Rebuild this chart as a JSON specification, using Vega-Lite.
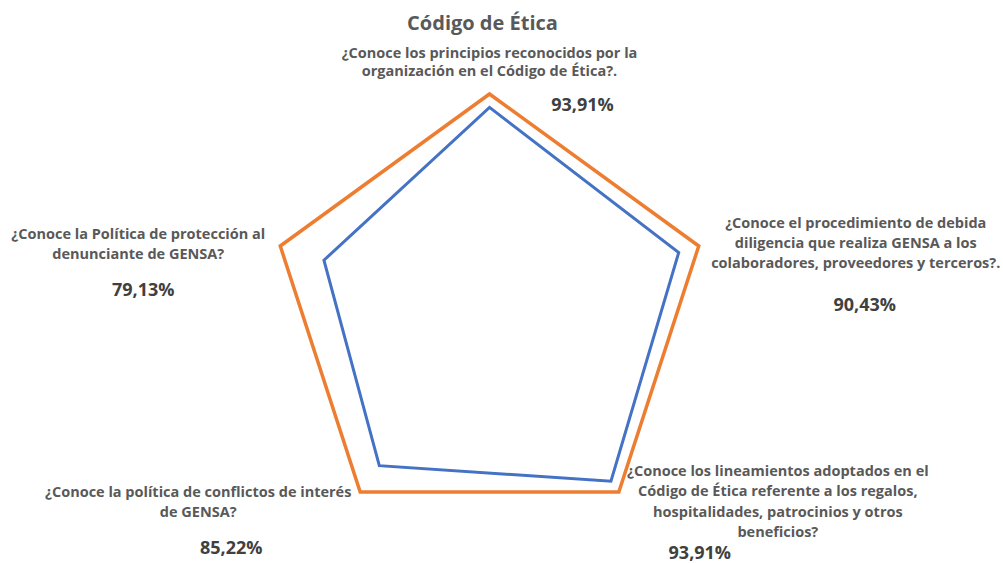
{
  "$schema": "https://vega.github.io/schema/vega-lite/v6.json",
  "width": 1003,
  "height": 523,
  "autosize": {"type": "none"},
  "padding": {"top": 40, "left": 0, "right": 0, "bottom": 0},
  "background": "white",
  "config": {
    "view": {"stroke": null},
    "locale": {"number": {"decimal": ",", "thousands": ".", "grouping": [3], "currency": ["", " €"]}}
  },
  "title": {
    "text": "Código de Ética",
    "font": "Open Sans",
    "fontSize": 20,
    "fontWeight": "bold",
    "color": "#595959",
    "anchor": "middle",
    "dx": -19,
    "offset": -10,
    "baseline": "alphabetic"
  },
  "data": {
    "values": [
      {"i": 0, "pregunta": "¿Conoce los principios reconocidos por la\norganización en el Código de Ética?.", "valor": 0.9391, "max": 1},
      {"i": 1, "pregunta": "¿Conoce el procedimiento de debida\ndiligencia que realiza GENSA a los\ncolaboradores, proveedores y terceros?.", "valor": 0.9043, "max": 1},
      {"i": 2, "pregunta": "¿Conoce los lineamientos adoptados en el\nCódigo de Ética referente a los regalos,\nhospitalidades, patrocinios y otros\nbeneficios?", "valor": 0.9391, "max": 1},
      {"i": 3, "pregunta": "¿Conoce la política de conflictos de interés\nde GENSA?", "valor": 0.8522, "max": 1},
      {"i": 4, "pregunta": "¿Conoce la Política de protección al\ndenunciante de GENSA?", "valor": 0.7913, "max": 1}
    ]
  },
  "transform": [
    {"calculate": "datum.i * 2 * PI / 5", "as": "ang"},
    {"calculate": "datum.valor * sin(datum.ang)", "as": "x"},
    {"calculate": "datum.valor * cos(datum.ang)", "as": "y"},
    {"calculate": "datum.max * sin(datum.ang)", "as": "xm"},
    {"calculate": "datum.max * cos(datum.ang)", "as": "ym"}
  ],
  "layer": [
    {
      "mark": {"type": "line", "interpolate": "linear-closed", "color": "#ED7D31", "strokeWidth": 3.5, "strokeJoin": "miter"},
      "encoding": {
        "x": {"field": "xm", "type": "quantitative", "scale": {"domain": [-2.225, 2.334], "nice": false, "zero": false}, "axis": null},
        "y": {"field": "ym", "type": "quantitative", "scale": {"domain": [-1.1318, 1.2455], "nice": false, "zero": false}, "axis": null},
        "order": {"field": "i"}
      }
    },
    {
      "mark": {"type": "line", "interpolate": "linear-closed", "color": "#4472C4", "strokeWidth": 3, "strokeJoin": "miter"},
      "encoding": {
        "x": {"field": "x", "type": "quantitative", "axis": null},
        "y": {"field": "y", "type": "quantitative", "axis": null},
        "order": {"field": "i"}
      }
    },
    {
      "transform": [{"filter": "datum.i == 0"}],
      "mark": {"type": "text", "font": "Open Sans", "fontSize": 14.5, "fontWeight": "bold", "color": "#595959", "align": "center", "baseline": "middle", "lineBreak": "\n", "lineHeight": 18, "dx": 0, "dy": -40},
      "encoding": {"x": {"field": "xm", "type": "quantitative"}, "y": {"field": "ym", "type": "quantitative"}, "text": {"field": "pregunta"}}
    },
    {
      "transform": [{"filter": "datum.i == 1"}],
      "mark": {"type": "text", "font": "Open Sans", "fontSize": 14.5, "fontWeight": "bold", "color": "#595959", "align": "center", "baseline": "middle", "lineBreak": "\n", "lineHeight": 20, "dx": 157, "dy": -22},
      "encoding": {"x": {"field": "xm", "type": "quantitative"}, "y": {"field": "ym", "type": "quantitative"}, "text": {"field": "pregunta"}}
    },
    {
      "transform": [{"filter": "datum.i == 2"}],
      "mark": {"type": "text", "font": "Open Sans", "fontSize": 14.5, "fontWeight": "bold", "color": "#595959", "align": "center", "baseline": "middle", "lineBreak": "\n", "lineHeight": 20.5, "dx": 159, "dy": -20},
      "encoding": {"x": {"field": "xm", "type": "quantitative"}, "y": {"field": "ym", "type": "quantitative"}, "text": {"field": "pregunta"}}
    },
    {
      "transform": [{"filter": "datum.i == 3"}],
      "mark": {"type": "text", "font": "Open Sans", "fontSize": 14.5, "fontWeight": "bold", "color": "#595959", "align": "center", "baseline": "middle", "lineBreak": "\n", "lineHeight": 20, "dx": -162, "dy": 1},
      "encoding": {"x": {"field": "xm", "type": "quantitative"}, "y": {"field": "ym", "type": "quantitative"}, "text": {"field": "pregunta"}}
    },
    {
      "transform": [{"filter": "datum.i == 4"}],
      "mark": {"type": "text", "font": "Open Sans", "fontSize": 14.5, "fontWeight": "bold", "color": "#595959", "align": "center", "baseline": "middle", "lineBreak": "\n", "lineHeight": 20, "dx": -142, "dy": -11},
      "encoding": {"x": {"field": "xm", "type": "quantitative"}, "y": {"field": "ym", "type": "quantitative"}, "text": {"field": "pregunta"}}
    },
    {
      "transform": [{"filter": "datum.i == 0"}],
      "mark": {"type": "text", "font": "Open Sans", "fontSize": 18, "fontWeight": "bold", "color": "#404040", "align": "center", "baseline": "middle", "dx": 93, "dy": 12},
      "encoding": {"x": {"field": "xm", "type": "quantitative"}, "y": {"field": "ym", "type": "quantitative"}, "text": {"field": "valor", "type": "quantitative", "format": ".2%"}}
    },
    {
      "transform": [{"filter": "datum.i == 1"}],
      "mark": {"type": "text", "font": "Open Sans", "fontSize": 18, "fontWeight": "bold", "color": "#404040", "align": "center", "baseline": "middle", "dx": 166, "dy": 60},
      "encoding": {"x": {"field": "xm", "type": "quantitative"}, "y": {"field": "ym", "type": "quantitative"}, "text": {"field": "valor", "type": "quantitative", "format": ".2%"}}
    },
    {
      "transform": [{"filter": "datum.i == 2"}],
      "mark": {"type": "text", "font": "Open Sans", "fontSize": 18, "fontWeight": "bold", "color": "#404040", "align": "center", "baseline": "middle", "dx": 81, "dy": 62},
      "encoding": {"x": {"field": "xm", "type": "quantitative"}, "y": {"field": "ym", "type": "quantitative"}, "text": {"field": "valor", "type": "quantitative", "format": ".2%"}}
    },
    {
      "transform": [{"filter": "datum.i == 3"}],
      "mark": {"type": "text", "font": "Open Sans", "fontSize": 18, "fontWeight": "bold", "color": "#404040", "align": "center", "baseline": "middle", "dx": -129, "dy": 57},
      "encoding": {"x": {"field": "xm", "type": "quantitative"}, "y": {"field": "ym", "type": "quantitative"}, "text": {"field": "valor", "type": "quantitative", "format": ".2%"}}
    },
    {
      "transform": [{"filter": "datum.i == 4"}],
      "mark": {"type": "text", "font": "Open Sans", "fontSize": 18, "fontWeight": "bold", "color": "#404040", "align": "center", "baseline": "middle", "dx": -137, "dy": 45},
      "encoding": {"x": {"field": "xm", "type": "quantitative"}, "y": {"field": "ym", "type": "quantitative"}, "text": {"field": "valor", "type": "quantitative", "format": ".2%"}}
    }
  ]
}
